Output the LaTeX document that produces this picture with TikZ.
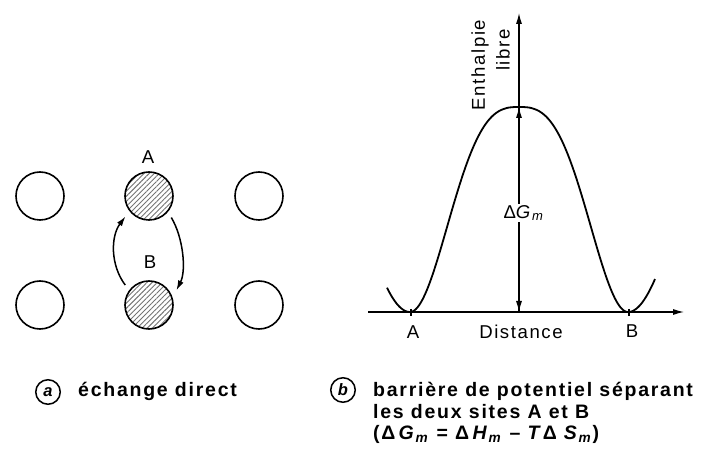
\documentclass[tikz,border=0pt]{standalone}
\usepackage{fontspec}
\setmainfont{Liberation Sans}
\newfontfamily\lblfont[LetterSpace=8.5]{Liberation Sans}
\newfontfamily\capfont[LetterSpace=9]{Liberation Sans}
\usetikzlibrary{arrows.meta,patterns.meta}
\tikzset{axtip/.tip={Latex[length=11pt,width=6pt]}}
\begin{document}
\begin{tikzpicture}[x=1pt,y=1pt,
  site/.style={circle,draw,line width=1.6pt,minimum size=48pt,inner sep=0pt},
  hsite/.style={site,outer sep=7pt,pattern={Lines[angle=45,distance=3.6pt,line width=0.9pt]},pattern color=black!55},
  arr/.style={line width=1.5pt,-{Latex[length=10pt,width=6pt]}},
  axis/.style={line width=1.2pt},
  curve/.style={line width=1.8pt,line join=round},
  lbl/.style={inner sep=0pt,font=\lblfont\fontsize{18.6}{22}\selectfont},
  captext/.style={inner sep=0pt,anchor=base west,font=\capfont\bfseries\fontsize{19.5}{22}\selectfont},
  circl/.style={circle,draw,line width=1.5pt,minimum size=24.5pt,inner sep=0pt,font=\bfseries\itshape\fontsize{16.5}{17}\selectfont},
  declare function={uu(\t)=(\t<1)*pow(max(\t,0.0001),1.42)+(\t>=1)*(1+(\t-1)*1.06);
                    gy(\s)=143+102.5*(1+cos(180*uu(abs(\s)/109)));}
]
\useasboundingbox (0,0) rectangle (701,455);

% ---- panel (a): sites
\node[site]  (c11) at (40,259)  {};
\node[hsite] (c12) at (149,259) {};
\node[site]  (c13) at (259,259) {};
\node[site]  (c21) at (40,150)  {};
\node[hsite] (c22) at (149,150) {};
\node[site]  (c23) at (259,150) {};
\node[lbl] (la) at (148,298) {A};
\node[lbl] (lb) at (150,193) {B};
\draw[arr] (c22.140) .. controls +(-15,20) and +(-15,-20) .. (c12.221);
\draw[arr] (c12.-44) .. controls +(12,-20) and +(10,20) .. (c22.28);

% ---- panel (b): potential barrier
\coordinate (orig) at (519,143);
\coordinate (ytop) at (519,442);
\coordinate (xl) at (368,143);
\coordinate (xr) at (684,143);
\coordinate (peak) at (519,348);
\coordinate (ta) at (411,143);
\coordinate (tb) at (629,143);
\draw[axis,-{axtip}] (orig) -- (ytop);
\draw[axis,-{axtip}] (xl) -- (xr);
\draw[axis] ([yshift=3pt]ta) -- ([yshift=-4pt]ta);
\draw[axis] ([yshift=3pt]tb) -- ([yshift=-4pt]tb);
\draw[curve] plot[domain=-132:136,samples=241] ({519+\x},{gy(\x)});
\draw[axis,{axtip}-{axtip}] (peak) -- (orig);
\node[lbl,fill=white,inner sep=1.5pt] (dg) at (524,242) {Δ\textit{G}\textsubscript{\textit{m}}};
\node[lbl,rotate=90] (en) at (480,390) {Enthalpie};
\node[lbl,rotate=90] (li) at (503,405) {libre};
\node[lbl] (xa) at (413,123) {A};
\node[lbl] (xd) at (521,123) {Distance};
\node[lbl] (xb) at (632,124) {B};

% ---- captions
\node[circl] (ma) at (48,63) {a};
\node[captext] (ca) at (78,58) {échange direct};
\node[circl] (mb) at (343,65) {b};
\node[captext] (cb1) at (373,58) {barrière de potentiel séparant};
\node[captext] (cb2) at (373,37) {les deux sites A et B};
\node[captext] (cb3) at (373,16) {(Δ\,\textit{G}\textsubscript{\textit{m}} = Δ\,\textit{H}\textsubscript{\textit{m}} – \textit{T}Δ \textit{S}\textsubscript{\textit{m}})};
\end{tikzpicture}
\end{document}
